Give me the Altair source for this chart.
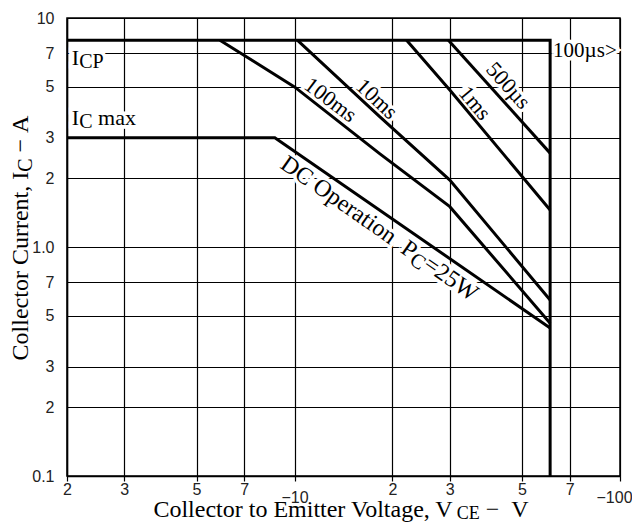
import altair as alt
import pandas as pd

# ---------------- data ----------------
# boundary: I_CP level then V_CEO limit
limit_v = [2, 61, 61]
limit_i = [8, 8, 0.1]
# I_C max level then DC operation (Pc = 25 W)
dc_v = [2, 8.7, 61]
dc_i = [3, 3, 0.443]
# pulse lines
ms100_v = [5.9, 10, 18.3, 30, 61]
ms100_i = [8, 5.0, 2.55, 1.5, 0.465]
ms10_v = [10.2, 18.3, 30, 61]
ms10_i = [8, 3.7, 1.96, 0.587]
ms1_v = [22.1, 30, 61]
ms1_i = [8, 4.85, 1.45]
us500_v = [29.7, 61]
us500_i = [8, 2.57]

series = {
    "limit": (limit_v, limit_i),
    "DC": (dc_v, dc_i),
    "100ms": (ms100_v, ms100_i),
    "10ms": (ms10_v, ms10_i),
    "1ms": (ms1_v, ms1_i),
    "500us": (us500_v, us500_i),
}

# tick values
x_ticks = [2, 3, 5, 7, 10, 20, 30, 50, 70, 100]
y_ticks = [0.1, 0.2, 0.3, 0.5, 0.7, 1, 2, 3, 5, 7, 10]

# rotated curve labels: text, V, I, angle
curve_labels = ["100ms", "10ms", "1ms", "500µs"]
curve_label_v = [12.9, 17.9, 35.8, 45.2]
curve_label_i = [4.39, 4.43, 4.25, 5.10]
curve_label_angle = [37, 43, 50, 48]

NB = "\u00a0"

# ---------------- helpers ----------------
TIMES_W = {' ': 250, NB: 250, ',': 250, '.': 250, '−': 564, '=': 564, '>': 564,
           'µ': 500, 'A': 722, 'C': 667, 'D': 722, 'E': 611, 'I': 333, 'O': 722,
           'P': 556, 'V': 722, 'W': 944, 'a': 444, 'c': 444, 'e': 444, 'g': 500,
           'i': 278, 'l': 278, 'm': 778, 'n': 500, 'o': 500, 'p': 500, 'r': 333,
           's': 389, 't': 278, 'u': 500, 'x': 500}


def tw(s, size):
    return sum(TIMES_W.get(ch, 500) for ch in s) * size / 1000.0


X = alt.X(
    "V:Q",
    scale=alt.Scale(type="log", domain=[2, 100], nice=False),
    axis=alt.Axis(
        values=x_ticks,
        title=None,
        labelExpr=("abs(datum.value-10)<0.01 ? ['', '−10'] : abs(datum.value-100)<0.01 ? ['', '−100'] : "
                   "datum.value > 10 ? '' + round(datum.value/10) : '' + round(datum.value)"),
        labelOffset=alt.condition("datum.value > 90", alt.value(-6), alt.value(0)),
        labelFont="Liberation Sans",
        labelFontSize=16,
        labelColor="#222222",
        labelFlush=False,
        labelOverlap=False,
        labelPadding=0,
        labelLineHeight=8,
        tickSize=5,
        grid=True,
    ),
)
Y = alt.Y(
    "I:Q",
    scale=alt.Scale(type="log", domain=[0.1, 10], nice=False),
    axis=alt.Axis(
        values=y_ticks,
        title=None,
        labelExpr=("abs(datum.value-1)<0.001 ? '1.0' : datum.value < 0.15 ? '0.1' : "
                   "datum.value < 1 ? '' + round(datum.value*10) : '' + round(datum.value)"),
        labelFont="Liberation Sans",
        labelFontSize=16,
        labelColor="#222222",
        labelFlush=False,
        labelOverlap=False,
        labelPadding=13,
        tickSize=0,
        grid=True,
    ),
)

rows = []
for name, (vs, is_) in series.items():
    for k, (v, i) in enumerate(zip(vs, is_)):
        rows.append({"series": name, "V": v, "I": i, "k": k})
df_lines = pd.DataFrame(rows)

lines = alt.Chart(df_lines).mark_line(
    color="black", strokeWidth=3, strokeJoin="miter", clip=True
).encode(x=X, y=Y, detail="series:N", order="k:Q")

SERIF = "Liberation Serif"


def part_layers(parts, anchor, angle, centered, halo):
    """parts: list of (text, size, dy). anchor: ('data', V, I) or ('px', x, y)."""
    total = sum(tw(t, s) for t, s, _ in parts)
    cum = 0.0
    out = []
    for t, s, dy in parts:
        core = t.lstrip(" " + NB)
        cum += tw(t[: len(t) - len(core)], s)   # leading spaces become an offset
        dx = cum - total / 2 if centered else cum
        cum += tw(core, s)
        mk = dict(align="left", baseline="middle", font=SERIF, fontSize=s,
                  angle=angle, dx=dx, dy=dy, text=core)
        if halo:
            mk.update(color="white", stroke="white", strokeWidth=7)
        else:
            mk.update(color="black")
        if anchor[0] == "data":
            ch = alt.Chart(pd.DataFrame({"V": [anchor[1]], "I": [anchor[2]]})).mark_text(**mk).encode(x=X, y=Y)
        else:
            ch = alt.Chart(pd.DataFrame({"a": [0]})).mark_text(**mk).encode(
                x=alt.value(anchor[1]), y=alt.value(anchor[2]))
        out.append(ch)
    return out


text_specs = []
# I_CP
text_specs.append(([("I", 22, 0), ("CP", 20, 4)], ("data", 2.07, 6.7), 0, False))
# I_C max
text_specs.append(([("I", 22, 0), ("C", 20, 4), (" max", 22, 0)], ("data", 2.07, 3.65), 0, False))
# 100us>
text_specs.append(([("100µs>", 21, 0)], ("data", 62.3, 7.2), 0, False))
# rotated curve labels
for t, v, i, a in zip(curve_labels, curve_label_v, curve_label_i, curve_label_angle):
    text_specs.append(([(t, 22, 0)], ("data", v, i), a, True))
# DC operation label
text_specs.append(([("DC" + NB + "Operation" + NB + NB + "P", 24, 0), ("C", 21, 5), ("=25W", 24, 0)],
                   ("data", 18.2, 1.2), 35, True))

halo_layers = []
text_layers = []
for parts, anchor, angle, centered in text_specs:
    halo_layers += part_layers(parts, anchor, angle, centered, True)
    text_layers += part_layers(parts, anchor, angle, centered, False)

# axis titles (with subscripts)
title_layers = []
title_layers += part_layers([("Collector Current, I", 24, 0), ("C", 20, 5), (" −" + NB + "A", 24, 0)],
                            ("px", -46, 220), 270, True, False)
title_layers += part_layers([("Collector to Emitter Voltage, V", 24, 0), ("CE", 18, 4), (" −" + NB + NB + "V", 24, 0)],
                            ("px", 274, 492), 0, True, False)

chart = alt.layer(*halo_layers, lines, *text_layers, *title_layers).properties(
    width=553,
    height=458,
    autosize="none",
    padding={"left": 59, "top": 10, "right": 12, "bottom": 47},
    background="white",
).configure_view(
    stroke="black", strokeWidth=1.5
).configure_axis(
    gridColor="black", gridWidth=1.2, gridOpacity=1,
    domainColor="black", domainWidth=1.5, tickColor="black", tickWidth=1.2,
)

chart.save("out.html", embed_options={"renderer": "svg", "actions": False})
